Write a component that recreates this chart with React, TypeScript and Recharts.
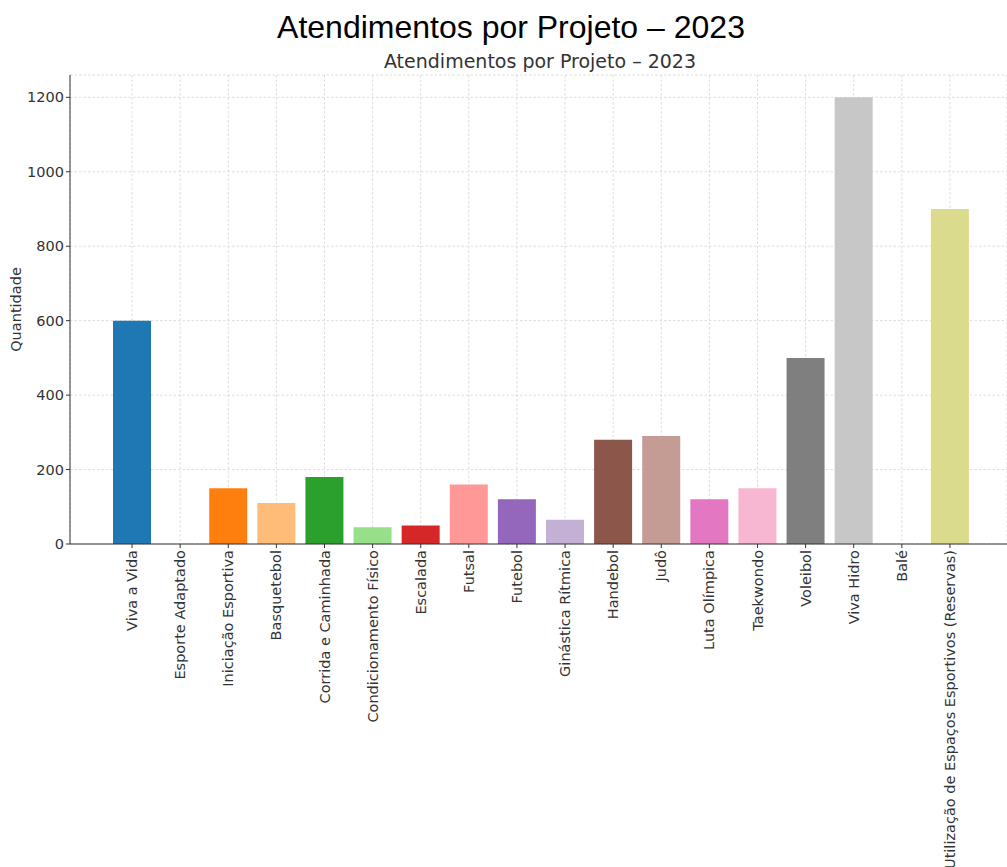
import React from 'react';
import { BarChart, Bar, XAxis, YAxis, CartesianGrid, Cell } from 'recharts';

const categories = [
  'Viva a Vida',
  'Esporte Adaptado',
  'Iniciação Esportiva',
  'Basquetebol',
  'Corrida e Caminhada',
  'Condicionamento Físico',
  'Escalada',
  'Futsal',
  'Futebol',
  'Ginástica Rítmica',
  'Handebol',
  'Judô',
  'Luta Olímpica',
  'Taekwondo',
  'Voleibol',
  'Viva Hidro',
  'Balé',
  'Utilização de Espaços Esportivos (Reservas)',
];

const values = [600, 0, 150, 110, 180, 45, 50, 160, 120, 65, 280, 290, 120, 150, 500, 1200, 0, 900];

const colors = [
  '#1f77b4', '#aec7e8', '#ff7f0e', '#ffbb78', '#2ca02c', '#98df8a',
  '#d62728', '#ff9896', '#9467bd', '#c5b0d5', '#8c564b', '#c49c94',
  '#e377c2', '#f7b6d2', '#7f7f7f', '#c7c7c7', '#bcbd22', '#dbdb8d',
];

const yTicks = [0, 200, 400, 600, 800, 1000, 1200];

const data = categories.map((name, i) => ({ name, value: values[i] }));

const FONT = '"DejaVu Sans", sans-serif';

const XTick = (props: any) => {
  const { x, y, payload } = props;
  return (
    <text
      x={x}
      y={y}
      transform={`rotate(-90, ${x}, ${y})`}
      textAnchor="end"
      dy="0.35em"
      fontFamily={FONT}
      fontSize={14.5}
      fill="#333"
    >
      {payload.value}
    </text>
  );
};

export default function App() {
  return (
    <div style={{ position: 'absolute', left: 0, top: 0, width: 1007, height: 867, background: '#fff', overflow: 'hidden' }}>
      <div
        style={{
          position: 'absolute',
          left: 0,
          width: 1022,
          top: 8,
          textAlign: 'center',
          fontFamily: '"Liberation Sans", Arial, sans-serif',
          fontSize: 32,
          lineHeight: '38px',
          color: '#000',
        }}
      >
        Atendimentos por Projeto – 2023
      </div>
      <div
        style={{
          position: 'absolute',
          left: 0,
          width: 1080,
          top: 49,
          textAlign: 'center',
          fontFamily: FONT,
          fontSize: 19,
          lineHeight: '24px',
          color: '#333',
        }}
      >
        Atendimentos por Projeto – 2023
      </div>
      <BarChart
        width={1007}
        height={867}
        data={data}
        margin={{ top: 75, right: 0, bottom: 0, left: 0 }}
        barSize={38}
      >
        <XAxis
          dataKey="name"
          interval={0}
          height={323}
          padding={{ left: 38, right: 33 }}
          tick={<XTick />}
          tickLine={{ stroke: '#333' }}
          tickSize={4}
          axisLine={{ stroke: '#333', strokeWidth: 1 }}
        />
        <YAxis
          width={70}
          domain={[0, 1260]}
          ticks={yTicks}
          allowDataOverflow
          tick={{ fontFamily: FONT, fontSize: 14.5, fill: '#333' }}
          tickLine={{ stroke: '#333' }}
          tickSize={4}
          tickMargin={2}
          axisLine={{ stroke: '#333', strokeWidth: 1 }}
          label={{
            value: 'Quantidade',
            angle: -90,
            position: 'insideLeft',
            offset: 16,
            style: { fontFamily: FONT, fontSize: 14.5, fill: '#333', textAnchor: 'middle' },
          }}
        />
        <Bar dataKey="value" isAnimationActive={false}>
          {data.map((d, i) => (
            <Cell key={d.name} fill={colors[i]} />
          ))}
        </Bar>
        <CartesianGrid stroke="#d4d4d4" strokeDasharray="2.5 2" strokeWidth={0.8} />
      </BarChart>
    </div>
  );
}
